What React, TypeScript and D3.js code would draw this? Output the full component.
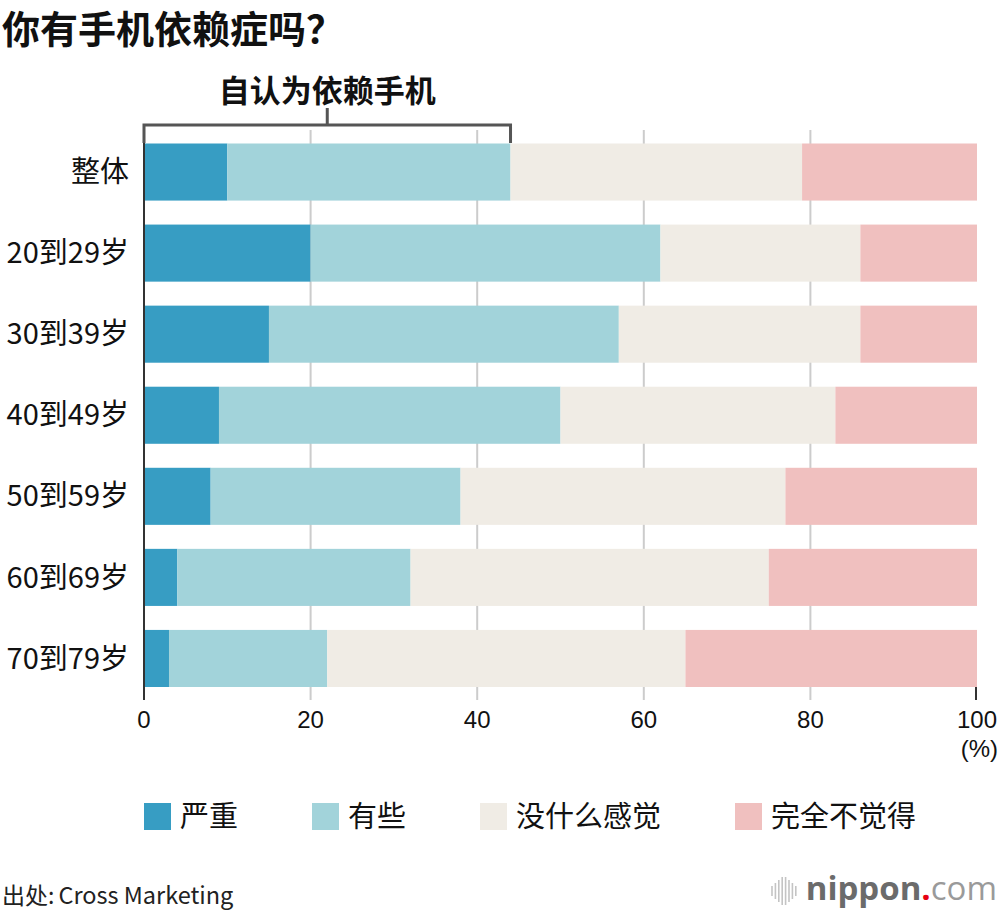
import * as d3 from "d3";
import { useEffect, useRef } from "react";

const categories = ["整体", "20到29岁", "30到39岁", "40到49岁", "50到59岁", "60到69岁", "70到79岁"];
const seriesNames = ["严重", "有些", "没什么感觉", "完全不觉得"];
const seriesColors = ["#379dc3", "#a2d3da", "#f0ece5", "#f0c0bf"];
const severe = [10, 20, 15, 9, 8, 4, 3];
const some = [34, 42, 42, 41, 30, 28, 19];
const notMuch = [35, 24, 29, 33, 39, 43, 43];
const notAtAll = [21, 14, 14, 17, 23, 25, 35];
const xTicks = [0, 20, 40, 60, 80, 100];

const CJK = "'Noto Sans CJK SC', 'Noto Sans', sans-serif";
const NUM = "'Liberation Sans', Arial, sans-serif";

export default function App() {
    const svgRef = useRef<SVGSVGElement | null>(null);

    useEffect(() => {
        if (!svgRef.current) return;
        const svg = d3.select(svgRef.current);
        svg.selectAll("*").remove();

        const width = 1000;
        const height = 914;

        const rows = categories.map((c, i) => ({
            cat: c,
            values: [severe[i], some[i], notMuch[i], notAtAll[i]],
        }));

        const x = d3.scaleLinear().domain([0, 100]).range([144, 977]);
        const y = d3.scaleBand<string>()
            .domain(categories)
            .range([143.5, 687])
            .paddingInner(0.296)
            .paddingOuter(0);

        // title
        svg.append("text")
            .attr("x", 2)
            .attr("y", 43)
            .attr("font-family", CJK)
            .attr("font-weight", 700)
            .attr("font-size", 38)
            .attr("fill", "#111")
            .text("你有手机依赖症吗？");

        // gridlines
        svg.append("g")
            .selectAll("line")
            .data(xTicks.filter((t) => t > 0 && t < 100))
            .join("line")
            .attr("x1", (d) => x(d))
            .attr("x2", (d) => x(d))
            .attr("y1", 130)
            .attr("y2", 700)
            .attr("stroke", "#cccccc")
            .attr("stroke-width", 2);

        // stacked bars
        const g = svg.append("g");
        rows.forEach((r) => {
            let acc = 0;
            r.values.forEach((v, k) => {
                g.append("rect")
                    .attr("x", x(acc))
                    .attr("y", y(r.cat)!)
                    .attr("width", x(acc + v) - x(acc))
                    .attr("height", y.bandwidth())
                    .attr("fill", seriesColors[k]);
                acc += v;
            });
        });

        // zero axis and 100 tick
        svg.append("line")
            .attr("x1", x(0)).attr("x2", x(0))
            .attr("y1", 137).attr("y2", 700)
            .attr("stroke", "#333").attr("stroke-width", 2);
        svg.append("line")
            .attr("x1", x(100) - 1).attr("x2", x(100) - 1)
            .attr("y1", 687).attr("y2", 700)
            .attr("stroke", "#333").attr("stroke-width", 2);

        // tick labels
        svg.append("g")
            .selectAll("text")
            .data(xTicks)
            .join("text")
            .attr("x", (d) => x(d))
            .attr("y", 728)
            .attr("text-anchor", "middle")
            .attr("font-family", NUM)
            .attr("font-size", 24)
            .attr("fill", "#111")
            .text((d) => String(d));
        svg.append("text")
            .attr("x", 998)
            .attr("y", 757)
            .attr("text-anchor", "end")
            .attr("font-family", NUM)
            .attr("font-size", 24)
            .attr("fill", "#111")
            .text("(%)");

        // category labels
        svg.append("g")
            .selectAll("text")
            .data(categories)
            .join("text")
            .attr("x", 129)
            .attr("y", (d) => y(d)! + y.bandwidth() / 2)
            .attr("dy", "0.35em")
            .attr("text-anchor", "end")
            .attr("font-family", CJK)
            .attr("font-size", 29)
            .attr("fill", "#111")
            .text((d) => d);

        // bracket for self-identified dependency
        const bx0 = x(0);
        const bx1 = x(severe[0] + some[0]);
        const bracket = svg.append("g")
            .attr("stroke", "#555")
            .attr("stroke-width", 3)
            .attr("fill", "none");
        bracket.append("path")
            .attr("d", `M${bx0},143 V125 H${bx1} V143`);
        bracket.append("line")
            .attr("x1", (bx0 + bx1) / 2).attr("x2", (bx0 + bx1) / 2)
            .attr("y1", 108).attr("y2", 125);
        svg.append("text")
            .attr("x", (bx0 + bx1) / 2)
            .attr("y", 102)
            .attr("text-anchor", "middle")
            .attr("font-family", CJK)
            .attr("font-weight", 700)
            .attr("font-size", 31)
            .attr("fill", "#111")
            .text("自认为依赖手机");

        // legend
        const legend = svg.append("g");
        const fs = 29;
        let lx = 144;
        seriesNames.forEach((name, k) => {
            legend.append("rect")
                .attr("x", lx)
                .attr("y", 803)
                .attr("width", 27)
                .attr("height", 27)
                .attr("fill", seriesColors[k]);
            legend.append("text")
                .attr("x", lx + 36)
                .attr("y", 817)
                .attr("dy", "0.35em")
                .attr("font-family", CJK)
                .attr("font-size", fs)
                .attr("fill", "#111")
                .text(name);
            lx += 36 + name.length * fs + 74;
        });

        // source
        const src = svg.append("text")
            .attr("x", 2)
            .attr("y", 904)
            .attr("font-family", CJK)
            .attr("font-size", 23)
            .attr("fill", "#222");
        src.append("tspan").text("出处:");
        src.append("tspan").attr("dx", 4).attr("font-size", 23.5).text("Cross Marketing");

        // logo
        const logo = svg.append("g");
        const barH = [10, 16, 22, 28, 28, 22, 16, 10];
        barH.forEach((h, i) => {
            logo.append("line")
                .attr("x1", 772 + i * 3.4)
                .attr("x2", 772 + i * 3.4)
                .attr("y1", 891 - h / 2)
                .attr("y2", 891 + h / 2)
                .attr("stroke", "#c4c4c4")
                .attr("stroke-width", 1.6);
        });
        const logoText = logo.append("text")
            .attr("x", 997)
            .attr("y", 900)
            .attr("text-anchor", "end")
            .attr("font-family", "'Open Sans', sans-serif")
            .attr("font-size", 33);
        logoText.append("tspan").attr("font-weight", 700).attr("fill", "#6b6b6b").text("nippon");
        logoText.append("tspan").attr("font-weight", 700).attr("fill", "#e60012").text(".");
        logoText.append("tspan").attr("font-weight", 400).attr("fill", "#9a9a9a").text("com");

        svg.attr("width", width).attr("height", height);
    }, []);

    return (
        <svg
            ref={svgRef}
            width={1000}
            height={914}
            style={{ position: "absolute", left: 0, top: 0, background: "#fff" }}
        />
    );
}
